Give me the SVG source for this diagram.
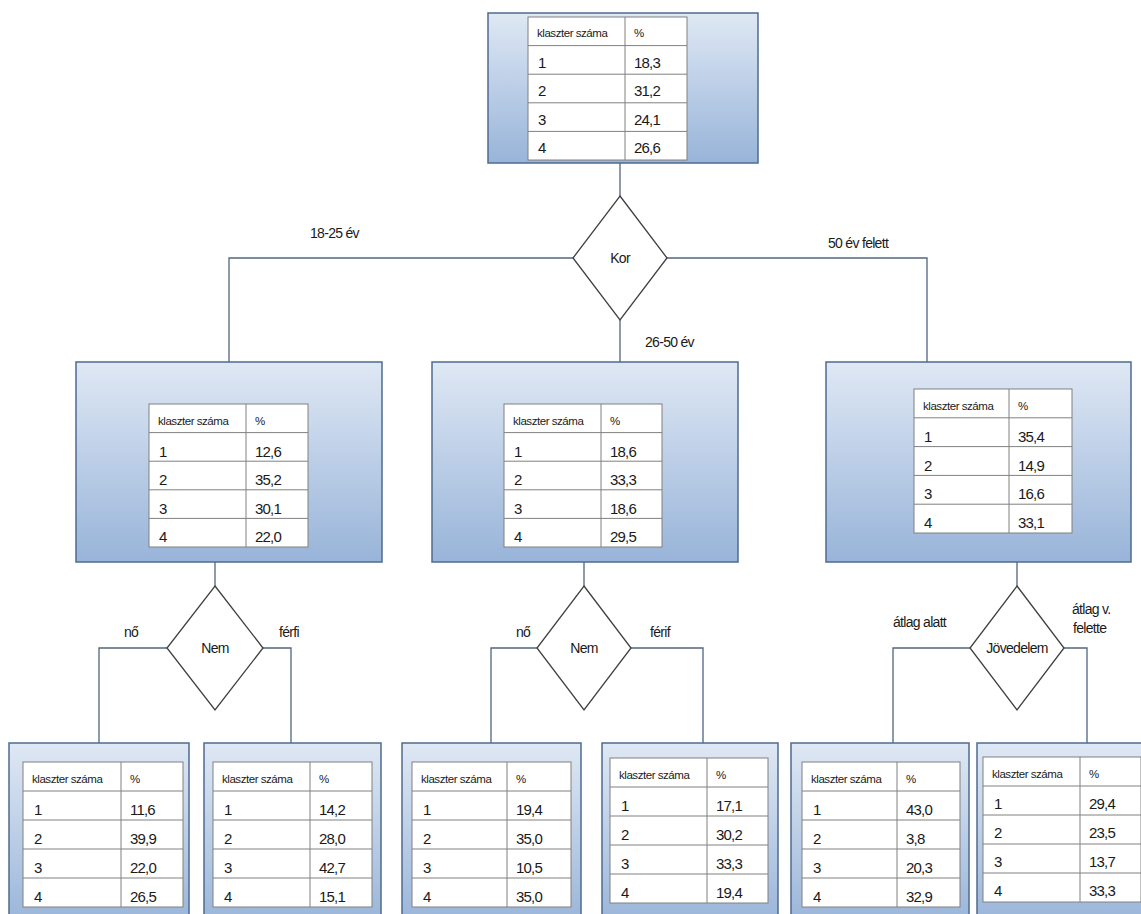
<svg xmlns="http://www.w3.org/2000/svg" width="1141" height="914" viewBox="0 0 1141 914">
<defs>
<linearGradient id="g" x1="0" y1="0" x2="0" y2="1">
<stop offset="0" stop-color="#dfe8f4"/>
<stop offset="1" stop-color="#98b4d9"/>
</linearGradient>
<style>
.box{fill:url(#g);stroke:#4e6b8f;stroke-width:1.5}
.tbl{fill:#fff;stroke:#808080;stroke-width:1}
.tl{stroke:#808080;stroke-width:1}
.dm{fill:#fff;stroke:#3f3f3f;stroke-width:1.3}
.cn{fill:none;stroke:#52657f;stroke-width:1.3}
text{font-family:"Liberation Sans",Arial,sans-serif;fill:#1a1a1a}
.hd{font-size:11.5px;letter-spacing:-0.45px}
.v{font-size:15px;letter-spacing:-0.8px}
.lbl{font-size:14px;letter-spacing:-0.7px}
.c{text-anchor:middle}
</style>
</defs>
<rect width="1141" height="914" fill="#fff"/>

<g id="connectors">
<path class="cn" d="M620 163V196"/>
<path class="cn" d="M573 258H229V362"/>
<path class="cn" d="M620 320V362"/>
<path class="cn" d="M667 258H927V362"/>
<path class="cn" d="M215 562V586"/>
<path class="cn" d="M584 562V586"/>
<path class="cn" d="M1017 562V586"/>
<path class="cn" d="M167 648H99V743"/>
<path class="cn" d="M263 648H291V743"/>
<path class="cn" d="M537 648H491V743"/>
<path class="cn" d="M631 648H703V743"/>
<path class="cn" d="M970 648H893V743"/>
<path class="cn" d="M1064 648H1087V743"/>
</g>

<g id="edge-labels">
<text class="lbl" x="310" y="238">18-25 év</text>
<text class="lbl" x="828" y="248">50 év felett</text>
<text class="lbl" x="645" y="347">26-50 év</text>
<text class="lbl" x="124" y="637">nő</text>
<text class="lbl" x="279" y="637">férfi</text>
<text class="lbl" x="516" y="637">nő</text>
<text class="lbl" x="650" y="637">férif</text>
<text class="lbl" x="893" y="627">átlag alatt</text>
<text class="lbl" x="1072" y="614">átlag v.</text>
<text class="lbl" x="1073" y="633">felette</text>
</g>

<g id="root">
<rect class="box" x="488" y="13" width="270" height="150"/>
<rect class="tbl" x="528" y="17" width="159" height="143"/>
<path class="tl" d="M528 45.6H687M528 74.2H687M528 102.8H687M528 131.4H687M625 17V160"/>
<text class="hd" x="537" y="37">klaszter száma</text><text class="hd" x="634" y="37">%</text>
<text class="v" x="538" y="67.6">1</text><text class="v" x="634" y="67.6">18,3</text>
<text class="v" x="538" y="96.2">2</text><text class="v" x="634" y="96.2">31,2</text>
<text class="v" x="538" y="124.8">3</text><text class="v" x="634" y="124.8">24,1</text>
<text class="v" x="538" y="153.4">4</text><text class="v" x="634" y="153.4">26,6</text>
</g>

<g id="kor">
<polygon class="dm" points="620,196 667,258 620,320 573,258"/>
<text class="lbl c" x="620" y="263">Kor</text>
</g>

<g id="age-18-25">
<rect class="box" x="76" y="362" width="306" height="200"/>
<rect class="tbl" x="149" y="404" width="159" height="143"/>
<path class="tl" d="M149 432.6H308M149 461.2H308M149 489.8H308M149 518.4H308M246 404V547"/>
<text class="hd" x="158" y="425">klaszter száma</text><text class="hd" x="255" y="425">%</text>
<text class="v" x="159" y="456.6">1</text><text class="v" x="255" y="456.6">12,6</text>
<text class="v" x="159" y="485.2">2</text><text class="v" x="255" y="485.2">35,2</text>
<text class="v" x="159" y="513.8">3</text><text class="v" x="255" y="513.8">30,1</text>
<text class="v" x="159" y="542.4">4</text><text class="v" x="255" y="542.4">22,0</text>
</g>

<g id="age-26-50">
<rect class="box" x="432" y="362" width="306" height="200"/>
<rect class="tbl" x="504" y="404" width="158" height="143"/>
<path class="tl" d="M504 432.6H662M504 461.2H662M504 489.8H662M504 518.4H662M601 404V547"/>
<text class="hd" x="513" y="425">klaszter száma</text><text class="hd" x="610" y="425">%</text>
<text class="v" x="514" y="456.6">1</text><text class="v" x="610" y="456.6">18,6</text>
<text class="v" x="514" y="485.2">2</text><text class="v" x="610" y="485.2">33,3</text>
<text class="v" x="514" y="513.8">3</text><text class="v" x="610" y="513.8">18,6</text>
<text class="v" x="514" y="542.4">4</text><text class="v" x="610" y="542.4">29,5</text>
</g>

<g id="age-50plus">
<rect class="box" x="826" y="362" width="305" height="200"/>
<rect class="tbl" x="914" y="389" width="158" height="144"/>
<path class="tl" d="M914 417.8H1072M914 446.6H1072M914 475.4H1072M914 504.2H1072M1009 389V533"/>
<text class="hd" x="923" y="410">klaszter száma</text><text class="hd" x="1018" y="410">%</text>
<text class="v" x="924" y="441.8">1</text><text class="v" x="1018" y="441.8">35,4</text>
<text class="v" x="924" y="470.6">2</text><text class="v" x="1018" y="470.6">14,9</text>
<text class="v" x="924" y="499.4">3</text><text class="v" x="1018" y="499.4">16,6</text>
<text class="v" x="924" y="528.2">4</text><text class="v" x="1018" y="528.2">33,1</text>
</g>

<g id="nem-1">
<polygon class="dm" points="215,586 263,648 215,710 167,648"/>
<text class="lbl c" x="215" y="653">Nem</text>
</g>
<g id="nem-2">
<polygon class="dm" points="584,586 631,648 584,710 537,648"/>
<text class="lbl c" x="584" y="653">Nem</text>
</g>
<g id="jovedelem">
<polygon class="dm" points="1017,586 1064,648 1017,710 970,648"/>
<text class="lbl c" x="1017" y="653">Jövedelem</text>
</g>

<g id="young-female">
<rect class="box" x="9" y="743" width="180" height="185"/>
<rect class="tbl" x="23" y="762" width="160" height="145"/>
<path class="tl" d="M23 791H183M23 820H183M23 849H183M23 878H183M121 762V907"/>
<text class="hd" x="32" y="783">klaszter száma</text><text class="hd" x="130" y="783">%</text>
<text class="v" x="34" y="815">1</text><text class="v" x="130" y="815">11,6</text>
<text class="v" x="34" y="844">2</text><text class="v" x="130" y="844">39,9</text>
<text class="v" x="34" y="873">3</text><text class="v" x="130" y="873">22,0</text>
<text class="v" x="34" y="902">4</text><text class="v" x="130" y="902">26,5</text>
</g>

<g id="young-male">
<rect class="box" x="204" y="743" width="177" height="185"/>
<rect class="tbl" x="213" y="762" width="159" height="145"/>
<path class="tl" d="M213 791H372M213 820H372M213 849H372M213 878H372M310 762V907"/>
<text class="hd" x="222" y="783">klaszter száma</text><text class="hd" x="319" y="783">%</text>
<text class="v" x="224" y="815">1</text><text class="v" x="319" y="815">14,2</text>
<text class="v" x="224" y="844">2</text><text class="v" x="319" y="844">28,0</text>
<text class="v" x="224" y="873">3</text><text class="v" x="319" y="873">42,7</text>
<text class="v" x="224" y="902">4</text><text class="v" x="319" y="902">15,1</text>
</g>

<g id="mid-female">
<rect class="box" x="402" y="743" width="179" height="185"/>
<rect class="tbl" x="412" y="762" width="159" height="145"/>
<path class="tl" d="M412 791H571M412 820H571M412 849H571M412 878H571M507 762V907"/>
<text class="hd" x="421" y="783">klaszter száma</text><text class="hd" x="516" y="783">%</text>
<text class="v" x="423" y="815">1</text><text class="v" x="516" y="815">19,4</text>
<text class="v" x="423" y="844">2</text><text class="v" x="516" y="844">35,0</text>
<text class="v" x="423" y="873">3</text><text class="v" x="516" y="873">10,5</text>
<text class="v" x="423" y="902">4</text><text class="v" x="516" y="902">35,0</text>
</g>

<g id="mid-male">
<rect class="box" x="602" y="743" width="176" height="185"/>
<rect class="tbl" x="610" y="758" width="158" height="145"/>
<path class="tl" d="M610 787H768M610 816H768M610 845H768M610 874H768M707 758V903"/>
<text class="hd" x="619" y="779">klaszter száma</text><text class="hd" x="716" y="779">%</text>
<text class="v" x="621" y="811">1</text><text class="v" x="716" y="811">17,1</text>
<text class="v" x="621" y="840">2</text><text class="v" x="716" y="840">30,2</text>
<text class="v" x="621" y="869">3</text><text class="v" x="716" y="869">33,3</text>
<text class="v" x="621" y="898">4</text><text class="v" x="716" y="898">19,4</text>
</g>

<g id="old-below">
<rect class="box" x="791" y="743" width="178" height="185"/>
<rect class="tbl" x="802" y="762" width="158" height="145"/>
<path class="tl" d="M802 791H960M802 820H960M802 849H960M802 878H960M897 762V907"/>
<text class="hd" x="811" y="783">klaszter száma</text><text class="hd" x="906" y="783">%</text>
<text class="v" x="813" y="815">1</text><text class="v" x="906" y="815">43,0</text>
<text class="v" x="813" y="844">2</text><text class="v" x="906" y="844">3,8</text>
<text class="v" x="813" y="873">3</text><text class="v" x="906" y="873">20,3</text>
<text class="v" x="813" y="902">4</text><text class="v" x="906" y="902">32,9</text>
</g>

<g id="old-above">
<rect class="box" x="977" y="743" width="180" height="185"/>
<rect class="tbl" x="983" y="757" width="158" height="145"/>
<path class="tl" d="M983 786H1141M983 815H1141M983 844H1141M983 873H1141M1080 757V902"/>
<text class="hd" x="992" y="778">klaszter száma</text><text class="hd" x="1089" y="778">%</text>
<text class="v" x="994" y="809">1</text><text class="v" x="1089" y="809">29,4</text>
<text class="v" x="994" y="838">2</text><text class="v" x="1089" y="838">23,5</text>
<text class="v" x="994" y="867">3</text><text class="v" x="1089" y="867">13,7</text>
<text class="v" x="994" y="896">4</text><text class="v" x="1089" y="896">33,3</text>
</g>
</svg>
